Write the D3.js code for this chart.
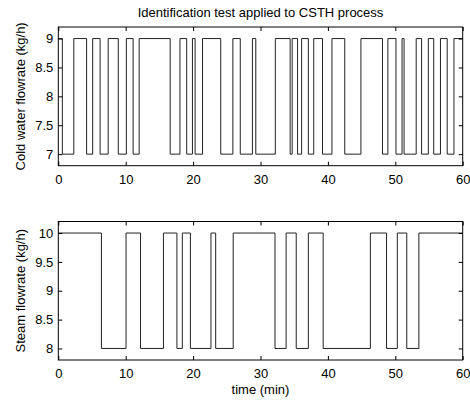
<!DOCTYPE html>
<html>
<head>
<meta charset="utf-8">
<script src="https://cdn.jsdelivr.net/npm/d3@7"></script>
<style>
  body { margin: 0; background: #fff; }
  text { font-family: "Liberation Sans", Arial, sans-serif; }
</style>
</head>
<body>
<svg id="chart" width="470" height="400"></svg>
<script>
// switching instants (min) and level held from that instant on
var coldTimes = [0, 0.6, 2.3, 4.2, 5.1, 6.2, 7.4, 8.9, 10.1, 11.1, 12.0, 16.6, 18.05, 19.05,
    19.9, 20.3, 21.4, 24.1, 25.9, 27.0, 28.8, 29.3, 32.2, 34.4, 34.7, 35.5, 36.1, 37.1,
    37.9, 39.2, 40.6, 42.5, 44.9, 48.1, 48.9, 50.1, 51.0, 51.3, 53.1, 53.9, 54.9, 55.7,
    56.7, 57.7, 58.7, 60];
var coldValues = [9, 7, 9, 7, 9, 7, 9, 7, 9, 7, 9, 7, 9, 7,
    9, 7, 9, 7, 9, 7, 9, 7, 9, 7, 9, 7, 9, 7,
    9, 7, 9, 7, 9, 7, 9, 7, 9, 7, 9, 7, 9, 7,
    9, 7, 9, 9];

var steamTimes = [0, 6.4, 10.05, 12.2, 15.6, 17.6, 18.4, 19.6, 22.65, 23.35, 25.95, 32.15,
    33.8, 35.3, 37.1, 39.3, 46.3, 48.7, 50.3, 51.7, 53.5, 60];
var steamValues = [10, 8, 10, 8, 10, 8, 10, 8, 10, 8, 10, 8,
    10, 8, 10, 8, 10, 8, 10, 8, 10, 10];

var xTicks = [0, 10, 20, 30, 40, 50, 60];
var coldTicks = [7, 7.5, 8, 8.5, 9];
var steamTicks = [8, 8.5, 9, 9.5, 10];

var svg = d3.select("#chart");

var left = 58.3;
var right = 462.7;
var fontSize = "13px";

drawPanel = function(cfg){
    var g = svg.append("g");
    var xScale = d3.scaleLinear().domain([0, 60]).range([left, right]);
    var yScale = d3.scaleLinear().domain(cfg.domain).range([cfg.bottom, cfg.top]);

    var pts = cfg.times.map(function(t, i){ return [t, cfg.values[i]]; });

    g.append("path")
        .datum(pts)
        .attr("fill", "none")
        .attr("stroke", "#222")
        .attr("stroke-width", 1)
        .attr("d", d3.line()
            .curve(d3.curveStepAfter)
            .x(function(d){ return xScale(d[0]); })
            .y(function(d){ return yScale(d[1]); }));

    // bottom axis with labels, ticks pointing inward
    g.append("g")
        .attr("transform", "translate(0," + cfg.bottom + ")")
        .call(d3.axisBottom(xScale).tickValues(xTicks).tickSizeInner(-4).tickSizeOuter(0).tickPadding(9))
        .call(function(a){ a.select(".domain").remove(); });
    g.append("g")
        .attr("transform", "translate(0," + cfg.top + ")")
        .call(d3.axisTop(xScale).tickValues(xTicks).tickSizeInner(-4).tickSizeOuter(0).tickFormat(""))
        .call(function(a){ a.select(".domain").remove(); });
    g.append("g")
        .attr("transform", "translate(" + left + ",0)")
        .call(d3.axisLeft(yScale).tickValues(cfg.ticks).tickSizeInner(-4).tickSizeOuter(0).tickPadding(5)
            .tickFormat(d3.format("")))
        .call(function(a){ a.select(".domain").remove(); });
    g.append("g")
        .attr("transform", "translate(" + right + ",0)")
        .call(d3.axisRight(yScale).tickValues(cfg.ticks).tickSizeInner(-4).tickSizeOuter(0).tickFormat(""))
        .call(function(a){ a.select(".domain").remove(); });

    g.selectAll(".tick text")
        .attr("fill", "#000")
        .attr("font-size", fontSize)
        .style("font-family", "'Liberation Sans', Arial, sans-serif");
    g.selectAll(".tick line").attr("stroke", "#000");

    g.append("rect")
        .attr("x", left)
        .attr("y", cfg.top)
        .attr("width", right - left)
        .attr("height", cfg.bottom - cfg.top)
        .attr("fill", "none")
        .attr("stroke", "#000")
        .attr("stroke-width", 1);

    g.append("text")
        .attr("transform", "translate(25," + ((cfg.top + cfg.bottom) / 2) + ") rotate(-90)")
        .attr("text-anchor", "middle")
        .attr("font-size", fontSize)
        .text(cfg.ylabel);
}

drawPanel({
    times: coldTimes, values: coldValues, domain: [6.8, 9.2],
    top: 27, bottom: 165.7, ticks: coldTicks,
    ylabel: "Cold water flowrate (kg/h)"
});

drawPanel({
    times: steamTimes, values: steamValues, domain: [7.8, 10.2],
    top: 221.5, bottom: 360, ticks: steamTicks,
    ylabel: "Steam flowrate (kg/h)"
});

svg.append("text")
    .attr("x", (left + right) / 2)
    .attr("y", 17)
    .attr("text-anchor", "middle")
    .attr("font-size", fontSize)
    .text("Identification test applied to CSTH process");

svg.append("text")
    .attr("x", (left + right) / 2)
    .attr("y", 394)
    .attr("text-anchor", "middle")
    .attr("font-size", fontSize)
    .text("time (min)");
</script>
</body>
</html>
